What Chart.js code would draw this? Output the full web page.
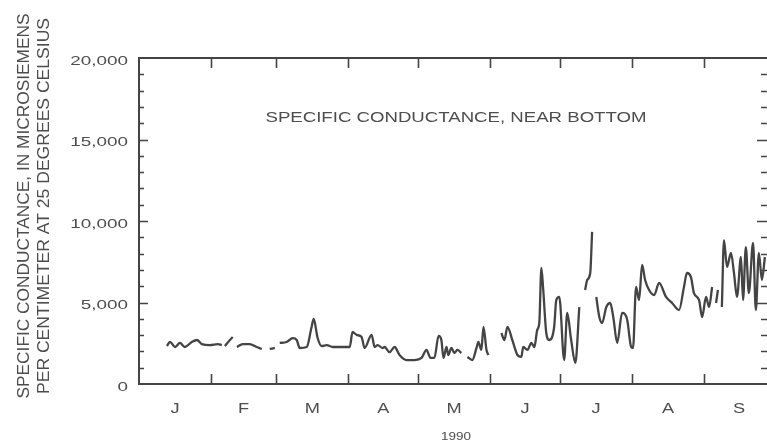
<!DOCTYPE html>
<html lang="en">
<head>
  <meta charset="UTF-8">
  <title>Specific conductance, near bottom - 1990</title>
  <script src="https://cdn.jsdelivr.net/npm/chart.js"></script>
  <style>
    body { margin: 0; background: #fff; }
    #wrap { width: 767px; height: 443px; position: relative; }
  </style>
</head>
<body>

<div id="wrap">
  <canvas id="grafik"></canvas>
</div>

<script>
  // day of year (1990) and specific conductance, null = gap in record
  const days = [
    12, 13.3, 15.5, 17.6, 19.7, 22.7, 24.9, 27, 30.5, 33.9, 35.6,
    36.2,
    36.9, 39.1, 40.3,
    41.2,
    42.1, 44.6, 47.6, 50.6, 52.8,
    54.5,
    56.2, 58.4,
    59.5,
    60.5, 63.5, 66.1, 67.8, 69.1, 72.1, 74.2, 75.1, 76.8, 78.5,
    80.7, 83.3, 86.3, 89.7, 90.6, 91.8, 93.6, 95.7, 97.0, 100.0,
    101.3, 102.6, 104.7, 105.6, 107.7, 109.9, 112.0, 115.0, 118.5, 121.5,
    123.6, 125.3, 127.0, 128.8, 130.0, 130.9, 132.2, 133.0, 134.3, 135.6,
    136.9, 138.6,
    140,
    141.2, 143.3, 145.1, 145.9, 147.2, 148.1, 149.4, 150.2,
    153,
    155.8, 157.1, 158.4, 160.5, 162.7, 164.4, 165.2, 167.0, 168.7, 170.0,
    171.2, 172.1, 173.0, 173.8, 175.1, 176.4, 178.5, 179.4, 180.7, 182.8,
    184.1, 185.8, 187.6, 189.3,
    190.5,
    191.8, 192.7, 194.0, 194.8,
    195.7,
    196.6, 197.9, 199.1, 200.9, 202.6, 203.9, 205.6, 207.7, 209.9, 211.6,
    212.4, 213.7, 215.0, 216.3, 217.6, 219.3, 221.5, 223.6, 226.6, 229.2,
    232.2, 234.3, 235.6, 237.3, 238.6, 240.8, 242.1, 243.8, 245.1, 246.4,
    247.2,
    248.1, 248.9,
    249.8,
    250.6, 251.5, 252.8, 254.5, 255.8, 257.1, 258.8, 259.7, 260.9, 262.2,
    264.0, 265.2, 266.5, 267.8, 269.1
  ];

  const konduktansi = [
    2330, 2580, 2270, 2520, 2270, 2580, 2700, 2450, 2390, 2450, 2390,
    null,
    2330, 2700, 2880,
    null,
    2270, 2450, 2450, 2270, 2150,
    null,
    2150, 2210,
    null,
    2520, 2580, 2820, 2700, 2210, 2270, 3500, 3990, 2820, 2330,
    2390, 2270, 2270, 2270, 2270, 3190, 3010, 2880, 2210, 3010,
    2270, 2390, 2210, 2270, 1960, 2270, 1780, 1470, 1470, 1600,
    2090, 1600, 1600, 2950, 2700, 1600, 2270, 1780, 2210, 1900,
    2090, 1900,
    null,
    1660, 1470, 2210, 2580, 2090, 3500, 2090, 1780,
    null,
    3130, 2700, 3500, 2700, 1780, 1660, 2270, 2090, 2520, 2270,
    3310, 3740, 7120, 5770, 3130, 2700, 3500, 5150, 5340, 1470,
    4360, 2700, 1290, 4720,
    null,
    5770, 6380, 6810, 9330,
    null,
    5340, 4110, 3740, 4720, 4970, 4110, 2520, 4360, 3930, 2270,
    2210, 5950, 5150, 7300, 6380, 5770, 5460, 6200, 5340, 4970,
    4540, 5950, 6810, 6560, 5580, 5150, 4110, 5340, 4720, 5950,
    null,
    4970, 5770,
    null,
    4720, 8830, 7180, 8040, 6810, 5340, 7790, 5150, 8400, 5580,
    8650, 4540, 8040, 6380, 7790
  ];

  const monthStarts = [0, 31, 59, 90, 120, 151, 181, 212, 243, 273];
  const monthLabels = ['J', 'F', 'M', 'A', 'M', 'J', 'J', 'A', 'S'];
  const yLabelValues = [0, 5000, 10000, 15000, 20000];
  const yLabels = ['0', '5,000', '10,000', '15,000', '20,000'];
  const tahun = '1990';
  const judul = 'SPECIFIC CONDUCTANCE, NEAR BOTTOM';
  const judulSumbuY = ['SPECIFIC CONDUCTANCE, IN MICROSIEMENS', 'PER CENTIMETER AT 25 DEGREES CELSIUS'];

  const warnaTeks = '#4d4d4d';
  const warnaGaris = '#444';

  // text in the scan is wide, so draw it stretched to size
  function teksLebar(ctx, txt, x, y, sx, align) {
    ctx.save();
    ctx.translate(x, y);
    ctx.scale(sx, 1);
    ctx.textAlign = align;
    ctx.fillText(txt, 0, 0);
    ctx.restore();
  }

  const bingkai = {
    id: 'bingkai',
    afterDraw(chart) {
      const { ctx, chartArea: a, scales: { x, y } } = chart;
      ctx.save();
      ctx.strokeStyle = warnaGaris;
      ctx.lineWidth = 2;

      // top border
      ctx.beginPath();
      ctx.moveTo(a.left - 1, a.top);
      ctx.lineTo(a.right, a.top);
      ctx.stroke();

      // month ticks, pointing inward top and bottom
      ctx.lineWidth = 1.6;
      ctx.beginPath();
      x.ticks.forEach(t => {
        const px = Math.round(x.getPixelForValue(t.value)) + 0.5;
        if (px <= a.left + 2 || px > a.right) return;
        ctx.moveTo(px, a.bottom);
        ctx.lineTo(px, a.bottom - 10);
        ctx.moveTo(px, a.top);
        ctx.lineTo(px, a.top + 10);
      });
      // y ticks every 1000, longer every 5000, left and right
      y.ticks.forEach(t => {
        const py = Math.round(y.getPixelForValue(t.value)) + 0.5;
        if (py <= a.top + 1 || py >= a.bottom - 1) return;
        const len = t.value % 5000 === 0 ? 9 : 5;
        ctx.moveTo(a.left, py);
        ctx.lineTo(a.left + len, py);
        ctx.moveTo(a.right, py);
        ctx.lineTo(a.right - len - 1, py);
      });
      ctx.stroke();

      ctx.fillStyle = warnaTeks;
      ctx.textBaseline = 'middle';

      // y labels
      ctx.font = '13px "Liberation Sans", Arial, sans-serif';
      yLabelValues.forEach((v, i) => {
        teksLebar(ctx, yLabels[i], a.left - 11, y.getPixelForValue(v) + 3, 1.45, 'right');
      });

      // month letters between the ticks
      ctx.font = '14px "Liberation Sans", Arial, sans-serif';
      monthLabels.forEach((m, i) => {
        const tengah = (x.getPixelForValue(monthStarts[i]) + x.getPixelForValue(monthStarts[i + 1])) / 2;
        if (tengah > a.right) return;
        teksLebar(ctx, m, tengah, a.bottom + 25, 1.3, 'center');
      });

      // year
      ctx.font = '10px "Liberation Sans", Arial, sans-serif';
      teksLebar(ctx, tahun, 456, a.bottom + 53, 1.35, 'center');

      // title inside the plot
      ctx.font = '14px "Liberation Sans", Arial, sans-serif';
      teksLebar(ctx, judul, 456, a.top + 60, 1.33, 'center');

      // rotated y axis title, two lines
      ctx.font = '16px "Liberation Sans", Arial, sans-serif';
      const target = [385, 376];
      const posX = [25, 45];
      judulSumbuY.forEach((baris, i) => {
        const w = ctx.measureText(baris).width;
        ctx.save();
        ctx.translate(posX[i], 206);
        ctx.rotate(-Math.PI / 2);
        ctx.scale(target[i] / w, 1);
        ctx.textAlign = 'center';
        ctx.fillText(baris, 0, 0);
        ctx.restore();
      });

      ctx.restore();
    }
  };

  const ctx = document.getElementById('grafik').getContext('2d');
  new Chart(ctx, {
    type: 'line',
    data: {
      datasets: [{
        label: 'Specific conductance',
        data: days.map((d, i) => ({ x: d, y: konduktansi[i] })),
        borderColor: warnaGaris,
        borderWidth: 2.3,
        pointRadius: 0,
        cubicInterpolationMode: 'monotone',
        spanGaps: false,
        fill: false
      }]
    },
    options: {
      responsive: true,
      maintainAspectRatio: false,
      animation: false,
      layout: { padding: { left: 139, top: 58, right: 0, bottom: 59 } },
      plugins: {
        legend: { display: false },
        tooltip: { enabled: false }
      },
      scales: {
        x: {
          type: 'linear',
          min: 0,
          max: 270,
          afterBuildTicks: scale => {
            scale.ticks = monthStarts.map(v => ({ value: v }));
          },
          ticks: { display: false },
          grid: { display: false, drawTicks: false },
          border: { display: true, color: warnaGaris, width: 2 }
        },
        y: {
          min: 0,
          max: 20000,
          ticks: { display: false, stepSize: 1000 },
          grid: { display: false, drawTicks: false },
          border: { display: true, color: warnaGaris, width: 2 }
        }
      }
    },
    plugins: [bingkai]
  });
</script>

</body>
</html>
